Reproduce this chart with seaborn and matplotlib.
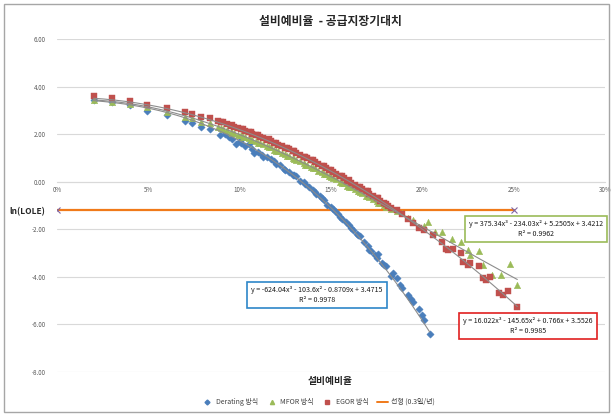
import numpy as np
import pandas as pd
import matplotlib
matplotlib.use("Agg")
import matplotlib.pyplot as plt
from matplotlib.lines import Line2D
from matplotlib.patches import Rectangle
from matplotlib.ticker import FuncFormatter, MultipleLocator
import seaborn as sns

# ---- data: reserve margin (%) vs ln(LOLE) ----
derating_x = [2.0, 3.0, 4.0, 4.9, 6.0, 7.0, 7.4, 7.9, 8.4, 8.9, 9.2, 9.4, 9.8, 10.0,
              10.3, 10.5, 10.8, 11.0, 11.2, 11.5, 11.7, 12.0, 12.2, 12.4, 12.7, 12.9,
              13.1, 13.3, 13.6, 13.8, 14.0, 14.2, 14.4, 14.6, 14.8, 15.0, 15.2, 15.4,
              15.6, 15.8, 16.0, 16.2, 16.4, 16.6, 16.8, 17.0, 17.2, 17.4, 17.6, 17.8,
              18.0, 18.3, 18.6, 18.9, 19.2, 19.5, 19.8, 20.1, 20.4,
              9.6, 10.1, 10.7, 11.3, 11.9, 12.5, 13.0, 13.5, 14.1, 14.5, 15.1, 15.5,
              16.1, 16.5, 17.1, 17.5, 17.9, 18.4, 18.8, 19.4, 20.0]
derating_y = [3.45, 3.36, 3.24, 2.98, 2.80, 2.55, 2.48, 2.30, 2.22, 1.95, 2.02, 1.90, 1.58, 1.72,
              1.52, 1.58, 1.20, 1.25, 1.12, 1.02, 0.95, 0.74, 0.70, 0.52, 0.42, 0.28,
              0.22, 0.05, -0.08, -0.22, -0.35, -0.50, -0.62, -0.78, -0.98, -1.05, -1.22, -1.36,
              -1.55, -1.70, -1.80, -2.02, -2.20, -2.30, -2.55, -2.70, -2.92, -3.10, -3.05, -3.40,
              -3.55, -3.95, -4.05, -4.45, -4.75, -5.05, -5.35, -5.80, -6.40,
              1.80, 1.62, 1.38, 1.05, 0.85, 0.50, 0.30, -0.02, -0.45, -0.70, -1.15, -1.48,
              -1.95, -2.22, -2.85, -3.20, -3.50, -3.85, -4.35, -4.95, -5.60]

mfor_x = [2.0, 3.0, 4.0, 4.9, 6.0, 7.0, 7.4, 7.9, 8.4, 8.8, 9.0, 9.3, 9.5, 9.7, 9.9,
          10.1, 10.3, 10.5, 10.7, 10.9, 11.1, 11.3, 11.5, 11.7, 11.9, 12.1, 12.3, 12.5,
          12.7, 12.9, 13.1, 13.3, 13.5, 13.7, 13.9, 14.1, 14.3, 14.5, 14.7, 14.9, 15.1,
          15.3, 15.5, 15.7, 15.9, 16.1, 16.3, 16.5, 16.7, 16.9, 17.1, 17.3, 17.5, 17.7,
          17.9, 18.1, 18.3, 18.6, 18.9, 19.2, 19.5, 19.8, 20.1, 20.3, 20.7, 21.1, 21.6,
          22.1, 22.5, 22.6, 23.1, 23.3, 23.8, 24.3, 24.8, 25.2,
          9.1, 9.6, 10.2, 10.6, 11.0, 11.6, 12.0, 12.6, 13.0, 13.6, 14.0, 14.6, 15.0,
          15.6, 16.0, 16.6, 17.0, 17.6, 18.0]
mfor_y = [3.44, 3.36, 3.27, 3.14, 2.95, 2.74, 2.68, 2.52, 2.46, 2.30, 2.24, 2.18, 2.10, 2.05, 1.98,
          1.95, 1.86, 1.83, 1.74, 1.70, 1.62, 1.58, 1.49, 1.44, 1.35, 1.30, 1.22, 1.16,
          1.07, 1.01, 0.92, 0.88, 0.78, 0.72, 0.63, 0.56, 0.47, 0.41, 0.32, 0.24, 0.16,
          0.10, 0.00, -0.06, -0.16, -0.24, -0.30, -0.40, -0.47, -0.58, -0.64, -0.72, -0.80, -0.90,
          -0.98, -1.05, -1.16, -1.22, -1.30, -1.52, -1.62, -1.90, -1.85, -1.68, -2.10, -2.10, -2.39,
          -2.52, -2.86, -3.07, -2.90, -3.49, -3.91, -3.91, -3.45, -4.33,
          2.20, 2.04, 1.88, 1.74, 1.62, 1.44, 1.30, 1.08, 0.94, 0.72, 0.58, 0.34, 0.18,
          -0.05, -0.21, -0.44, -0.62, -0.88, -1.08]

egor_x = [2.0, 3.0, 4.0, 4.9, 6.0, 7.0, 7.4, 7.9, 8.4, 8.8, 9.0, 9.3, 9.5, 9.7, 9.9,
          10.1, 10.3, 10.5, 10.7, 10.9, 11.1, 11.3, 11.5, 11.7, 11.9, 12.1, 12.3, 12.5,
          12.7, 12.9, 13.1, 13.3, 13.5, 13.7, 13.9, 14.1, 14.3, 14.5, 14.7, 14.9, 15.1,
          15.3, 15.5, 15.7, 15.9, 16.1, 16.3, 16.5, 16.7, 16.9, 17.1, 17.3, 17.5, 17.7,
          17.9, 18.1, 18.3, 18.6, 18.9, 19.2, 19.5, 19.8, 20.1, 20.6, 21.1, 21.3, 21.4,
          21.7, 22.1, 22.2, 22.5, 22.6, 23.1, 23.3, 23.5, 23.7, 24.2, 24.4, 24.7, 25.2,
          9.1, 9.6, 10.2, 10.6, 11.0, 11.6, 12.0, 12.6, 13.0, 13.6, 14.0, 14.6, 15.0,
          15.6, 16.0, 16.6, 17.0, 17.6, 18.0]
egor_y = [3.62, 3.52, 3.40, 3.22, 3.08, 2.92, 2.85, 2.72, 2.66, 2.55, 2.50, 2.44, 2.36, 2.30, 2.25,
          2.20, 2.14, 2.07, 2.00, 1.96, 1.88, 1.82, 1.76, 1.70, 1.64, 1.56, 1.50, 1.42,
          1.36, 1.28, 1.20, 1.14, 1.06, 0.98, 0.90, 0.82, 0.74, 0.66, 0.57, 0.48, 0.40,
          0.32, 0.22, 0.14, 0.04, -0.04, -0.12, -0.22, -0.32, -0.40, -0.50, -0.60, -0.70, -0.80,
          -0.90, -1.02, -1.12, -1.18, -1.35, -1.58, -1.72, -1.95, -2.05, -2.23, -2.52, -2.82, -2.86,
          -2.82, -2.98, -3.36, -3.49, -3.40, -3.53, -4.03, -4.12, -3.99, -4.66, -4.75, -4.58, -5.28,
          2.52, 2.38, 2.20, 2.08, 1.95, 1.78, 1.62, 1.42, 1.28, 1.06, 0.90, 0.66, 0.50,
          0.22, 0.06, -0.22, -0.40, -0.70, -0.92]

# cubic trendline coefficients (highest order first) and R²
derating_fit = [-624.04, -103.6, -0.8709, 3.4715]
mfor_fit = [375.34, -234.03, 5.2505, 3.4212]
egor_fit = [16.022, -145.65, 0.766, 3.5526]
derating_r2, mfor_r2, egor_r2 = 0.9978, 0.9962, 0.9985

# reliability criterion: 0.3 days/year
lole_target = 0.3
target_x = [0.0, 25.0]

# ---- styling ----
sns.set_theme(style="white")
plt.rcParams['font.family'] = ['Noto Sans CJK KR', 'DejaVu Sans']
plt.rcParams['axes.unicode_minus'] = False

c_blue = '#4A7EBB'
c_green = '#9BBB59'
c_red = '#C0504D'
c_orange = '#F07A1A'
c_trend = '#8C8C8C'

fig = plt.figure(figsize=(6.12, 4.15), dpi=100)
ax = fig.add_axes([57 / 612, 1 - 372 / 415, (605 - 57) / 612, (372 - 39) / 415])

# frame around the whole chart
fig.patches.append(Rectangle((4 / 612, 3 / 415), 605 / 612, 408 / 415, transform=fig.transFigure,
                             fill=False, edgecolor='#A6A6A6', linewidth=1.0))

df_d = pd.DataFrame({'x': np.array(derating_x) / 100, 'y': derating_y})
df_m = pd.DataFrame({'x': np.array(mfor_x) / 100, 'y': mfor_y})
df_e = pd.DataFrame({'x': np.array(egor_x) / 100, 'y': egor_y})

sns.scatterplot(data=df_d, x='x', y='y', ax=ax, marker='D', s=14, color=c_blue,
                edgecolor=c_blue, linewidth=0.3, zorder=3)
sns.scatterplot(data=df_m, x='x', y='y', ax=ax, marker='^', s=22, color=c_green,
                edgecolor=c_green, linewidth=0.3, zorder=3)
sns.scatterplot(data=df_e, x='x', y='y', ax=ax, marker='s', s=22, color=c_red,
                edgecolor=c_red, linewidth=0.3, zorder=3)

# trendlines from the stated polynomial coefficients
for coeffs, xs in [(derating_fit, derating_x), (mfor_fit, mfor_x), (egor_fit, egor_x)]:
    xx = np.linspace(min(xs) / 100, max(xs) / 100, 200)
    sns.lineplot(x=xx, y=np.polyval(coeffs, xx), ax=ax, color=c_trend, linewidth=0.8, zorder=4)

# criterion line
ty = np.log(lole_target)
sns.lineplot(x=np.array(target_x) / 100, y=[ty, ty], ax=ax, color=c_orange, linewidth=1.6,
             marker='x', markersize=4, markeredgecolor='#8064A2', markeredgewidth=0.8, zorder=2)

ax.set_xlim(0, 0.30)
ax.set_ylim(-8, 6)
ax.yaxis.set_major_locator(MultipleLocator(2))
ax.xaxis.set_major_locator(MultipleLocator(0.05))
ax.xaxis.set_major_formatter(FuncFormatter(lambda v, p: f"{v * 100:.0f}%"))
ax.yaxis.set_major_formatter(FuncFormatter(lambda v, p: f"{v:.2f}"))
ax.grid(axis='y', color='#D9D9D9', linewidth=0.8)
ax.set_axisbelow(True)
for s in ['top', 'right', 'left']:
    ax.spines[s].set_visible(False)
ax.spines['bottom'].set_position(('data', 0))
ax.spines['bottom'].set_color('#D9D9D9')
ax.spines['bottom'].set_linewidth(0.8)
ax.tick_params(axis='x', labelsize=4.5, colors='#595959', length=0, pad=3)
ax.tick_params(axis='y', labelsize=4.5, colors='#595959', length=0, pad=8)
ax.set_xlabel('')
ax.set_ylabel('')

fig.text(330 / 612, 1 - 22 / 415, '설비예비율  - 공급지장기대치', ha='center', va='center',
         fontsize=8.5, fontweight='bold', color='#262626')
fig.text(27 / 612, 1 - 212 / 415, 'ln(LOLE)', ha='center', va='center',
         fontsize=6, fontweight='bold', color='#262626')
fig.text(330 / 612, 1 - 381 / 415, '설비예비율', ha='center', va='center',
         fontsize=7, fontweight='bold', color='#262626')

def eq_text(c, r2):
    def term(v):
        return f"- {abs(v):g}" if v < 0 else f"+ {v:g}"
    first = f"-{abs(c[0]):g}" if c[0] < 0 else f"{c[0]:g}"
    return (f"y = {first}x³ {term(c[1])}x² {term(c[2])}x {term(c[3])}\n"
            f"R² = {r2:.4f}")

box_style = dict(boxstyle='square,pad=0.55', facecolor='white', linewidth=1.2)
fig.text(317 / 612, 1 - 295 / 415, eq_text(derating_fit, derating_r2), ha='center', va='center',
         fontsize=5.1, linespacing=1.45, color='#1A1A1A', bbox=dict(box_style, edgecolor='#2E86C8'))
fig.text(536 / 612, 1 - 229 / 415, eq_text(mfor_fit, mfor_r2), ha='center', va='center',
         fontsize=5.1, linespacing=1.45, color='#1A1A1A', bbox=dict(box_style, edgecolor=c_green))
fig.text(528 / 612, 1 - 326 / 415, eq_text(egor_fit, egor_r2), ha='center', va='center',
         fontsize=5.1, linespacing=1.45, color='#1A1A1A', bbox=dict(box_style, edgecolor='#E02020'))

handles = [
    Line2D([], [], linestyle='none', marker='D', markersize=2.5, color=c_blue),
    Line2D([], [], linestyle='none', marker='^', markersize=3, color=c_green),
    Line2D([], [], linestyle='none', marker='s', markersize=3, color=c_red),
    Line2D([], [], color=c_orange, linewidth=1.4),
]
labels = ['Derating 방식', 'MFOR 방식', 'EGOR 방식', '선형 (0.3일/년)']
fig.legend(handles, labels, loc='center', bbox_to_anchor=(318 / 612, 1 - 402 / 415), ncol=4,
           frameon=False, fontsize=5, handlelength=1.6, columnspacing=1.2, handletextpad=0.4,
           labelcolor='#404040')

fig.savefig('out.png', dpi=100)
